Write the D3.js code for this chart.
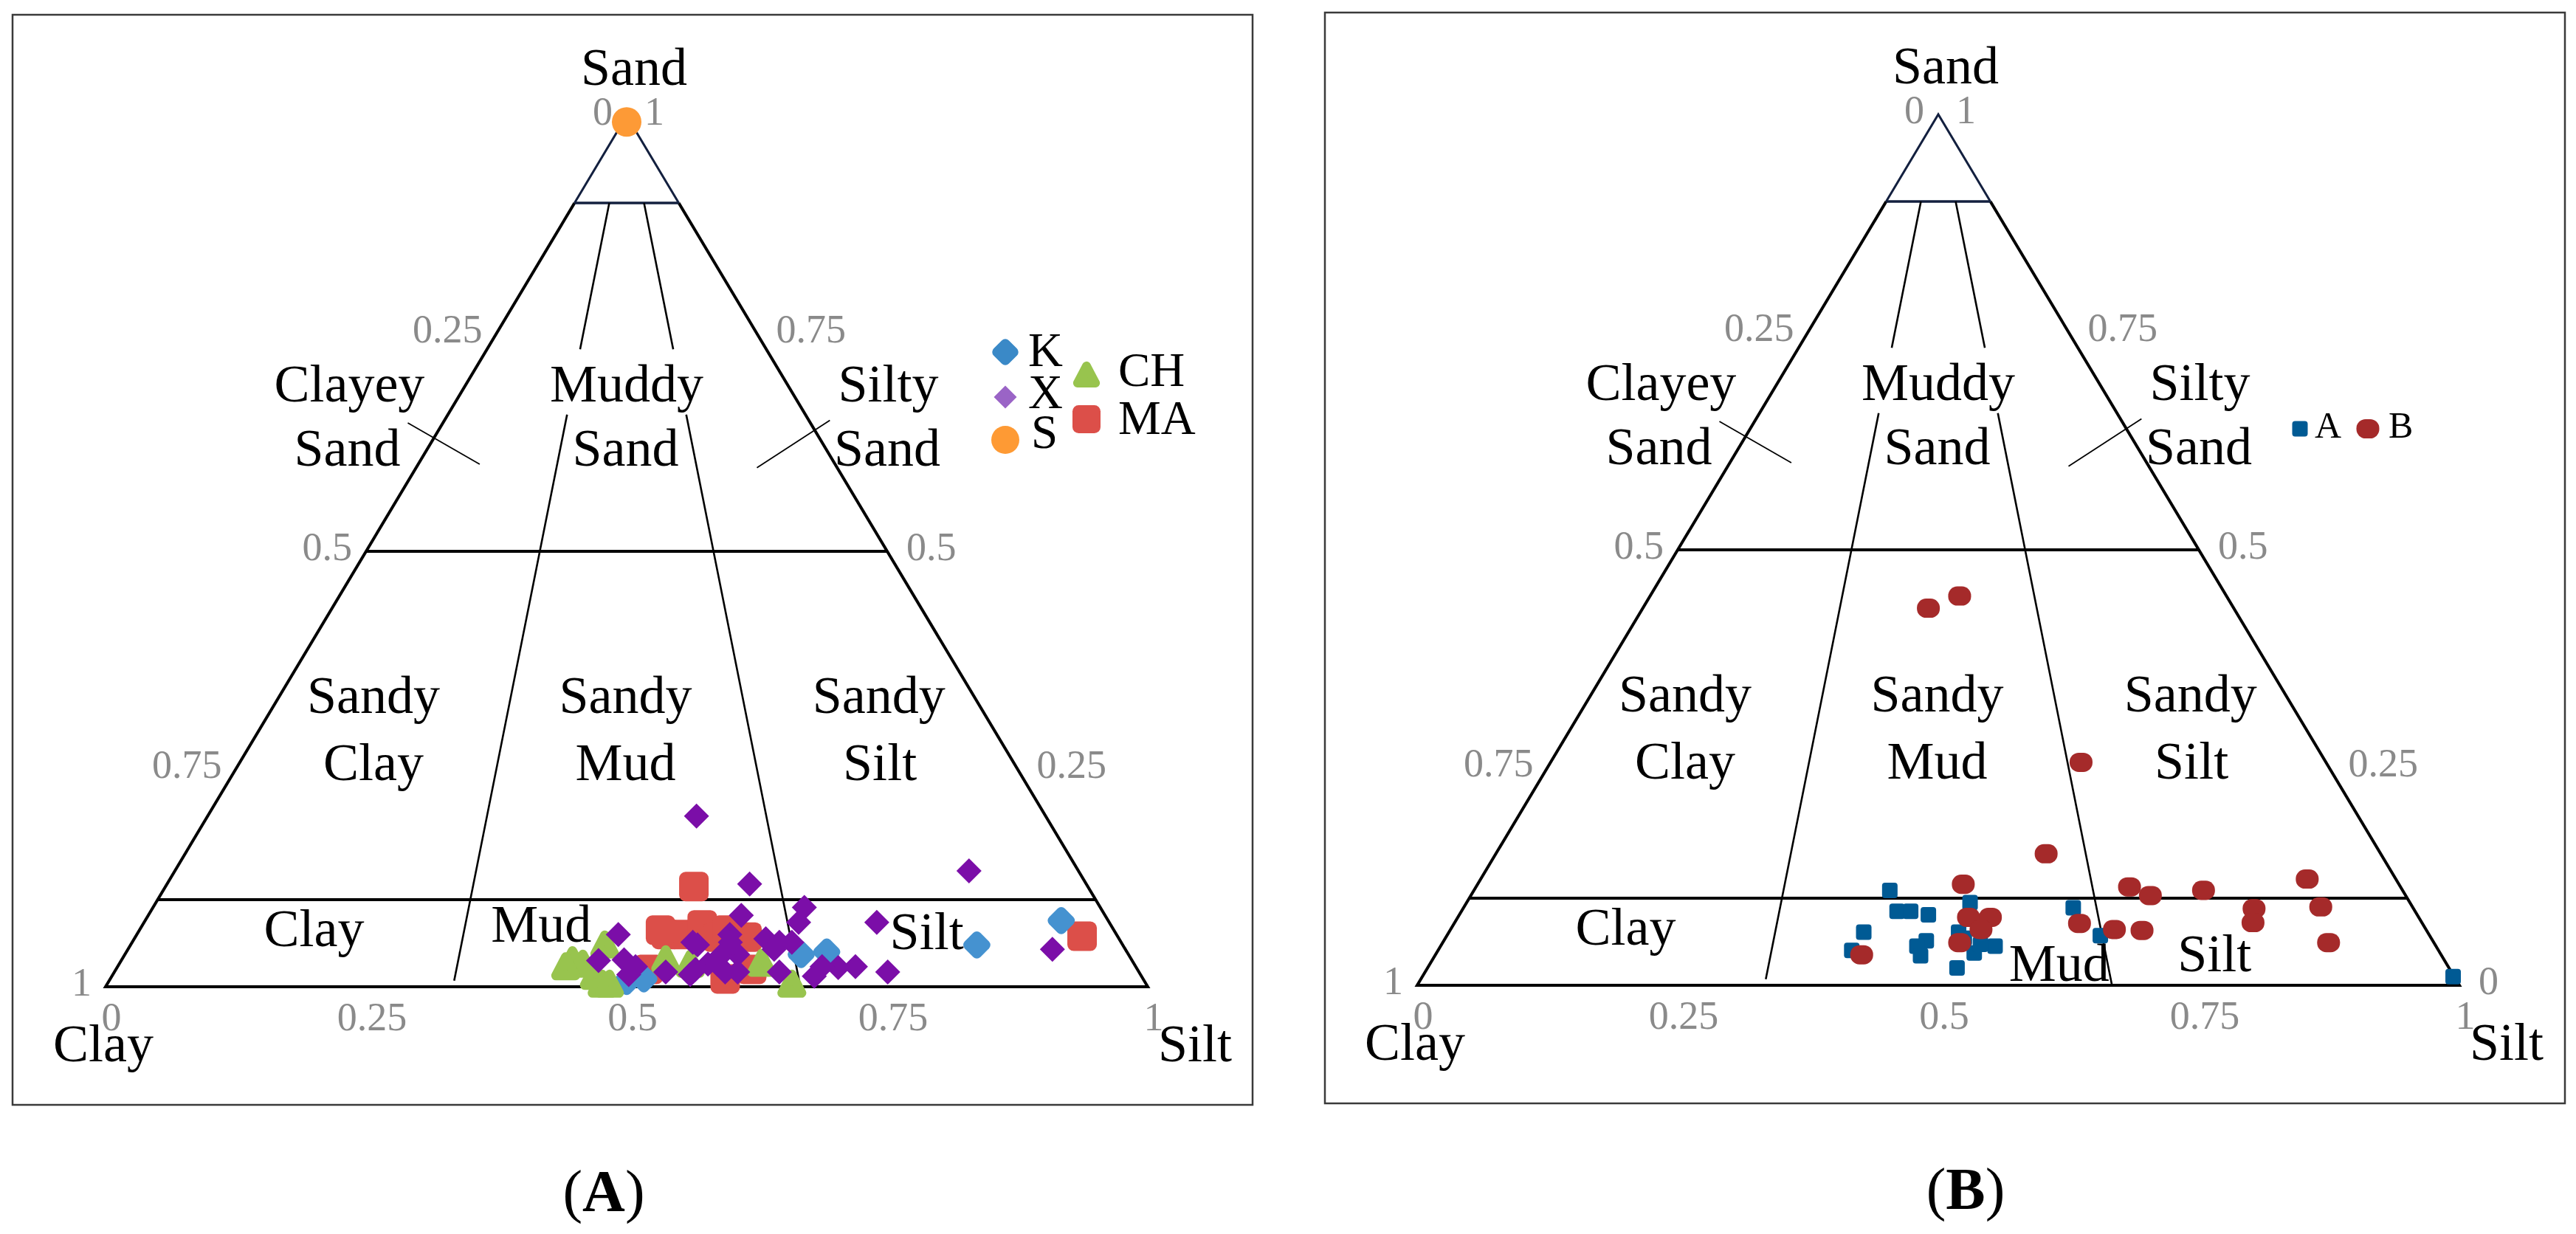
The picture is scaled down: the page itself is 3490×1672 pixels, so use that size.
<!DOCTYPE html>
<html>
<head>
<meta charset="utf-8">
<script src="https://cdn.jsdelivr.net/npm/d3@7"></script>
<style>
  html, body { margin: 0; padding: 0; background: #fff; }
  svg { display: block; font-family: "Liberation Serif", "Times New Roman", serif; }
</style>
</head>
<body>
<svg id="chart" width="3490" height="1672"></svg>
<script>
// Fractions: sand, silt (clay = 1 - sand - silt)

// Panel A
const kSand  = [0.048, 0.076, 0.040, 0.037, 0.006, 0.009];
const kSilt  = [0.812, 0.879, 0.672, 0.649, 0.497, 0.512];

const xSand  = [0.196, 0.133, 0.118, 0.082, 0.091, 0.074, 0.074, 0.017, 0.043, 0.023, 0.022, 0.023,
                0.012, 0.017, 0.051, 0.055, 0.051, 0.060, 0.037, 0.017, 0.017, 0.060, 0.030, 0.031,
                0.023, 0.014, 0.017, 0.048, 0.020, 0.026, 0.037, 0.014, 0.051, 0.026, 0.051, 0.043];
const xSilt  = [0.469, 0.762, 0.559, 0.569, 0.625, 0.628, 0.703, 0.742, 0.887, 0.708, 0.692, 0.676,
                0.674, 0.638, 0.633, 0.606, 0.621, 0.569, 0.588, 0.598, 0.586, 0.462, 0.458, 0.482,
                0.497, 0.495, 0.529, 0.544, 0.556, 0.565, 0.573, 0.554, 0.538, 0.574, 0.574, 0.620];

const sSand  = [0.993];
const sSilt  = [0.0035];

const chSand = [0.030, 0.026, 0.003, 0.048, 0.012, 0.031, 0.026, 0.003, 0.027, 0.023, 0.003];
const chSilt = [0.433, 0.445, 0.475, 0.455, 0.463, 0.522, 0.548, 0.657, 0.616, 0.430, 0.482];

const maSand = [0.058, 0.115, 0.060, 0.060, 0.071, 0.057, 0.020, 0.009, 0.057, 0.065, 0.020, 0.065];
const maSilt = [0.908, 0.507, 0.508, 0.524, 0.537, 0.559, 0.511, 0.590, 0.587, 0.564, 0.610, 0.500];

// Panel B
const aSand  = [0.109, 0.085, 0.085, 0.081, 0.095, 0.061, 0.040, 0.051, 0.045, 0.034, 0.061, 0.037,
                0.045, 0.047, 0.020, 0.089, 0.057, 0.010, 0.054];
const aSilt  = [0.399, 0.418, 0.431, 0.450, 0.483, 0.398, 0.397, 0.463, 0.457, 0.466, 0.489, 0.516,
                0.532, 0.517, 0.508, 0.585, 0.627, 0.989, 0.498];

const bSand  = [0.447, 0.433, 0.256, 0.151, 0.116, 0.113, 0.103, 0.109, 0.122, 0.090, 0.088, 0.072,
                0.049, 0.063, 0.064, 0.071, 0.078, 0.078, 0.064, 0.049, 0.035];
const bSilt  = [0.297, 0.274, 0.509, 0.528, 0.466, 0.627, 0.652, 0.700, 0.793, 0.822, 0.759, 0.766,
                0.850, 0.664, 0.637, 0.600, 0.490, 0.511, 0.509, 0.496, 0.409];

// Folk class boundaries
const sandLevels = [0.1, 0.5, 0.9];
const mudRatios  = [1 / 3, 2 / 3];
const tickVals   = [0, 0.25, 0.5, 0.75, 1];
const tickText   = ['0', '0.25', '0.5', '0.75', '1'];

// Region labels: [text, horizontal fraction, sand level of baseline]
const regionLabels = [
  ['Clayey', 0.234, 0.672], ['Sand', 0.232, 0.598],
  ['Muddy', 0.500, 0.672], ['Sand', 0.499, 0.598],
  ['Silty', 0.751, 0.672], ['Sand', 0.750, 0.598],
  ['Sandy', 0.257, 0.314], ['Clay', 0.257, 0.237],
  ['Sandy', 0.499, 0.314], ['Mud', 0.499, 0.237],
  ['Sandy', 0.742, 0.314], ['Silt', 0.743, 0.237],
  ['Clay', 0.200, 0.047]
];
const bottomLabelsA = [['Mud', 0.418, 0.052], ['Silt', 0.788, 0.043]];
const bottomLabelsB = [['Mud', 0.616, 0.005], ['Silt', 0.765, 0.016]];

const svg = d3.select('#chart');
svg.append('rect').attr('width', 3490).attr('height', 1672).attr('fill', '#fff');

function rows(sand, silt) { return sand.map((s, i) => ({ sand: s, silt: silt[i] })); }

// marker painters
const markers = {
  roundDiamond: (g, color, size) => g.append('rect')
    .attr('x', -size / 2).attr('y', -size / 2).attr('width', size).attr('height', size)
    .attr('rx', size * 0.23).attr('transform', 'rotate(45)').attr('fill', color),
  diamond: (g, color, size) => g.append('path')
    .attr('d', `M0,${-size / 2}L${size / 2},0L0,${size / 2}L${-size / 2},0Z`).attr('fill', color),
  circle: (g, color, size) => g.append('circle').attr('r', size / 2).attr('fill', color),
  triangle: (g, color, size) => g.append('path')
    .attr('d', `M0,${-size * 0.33}L${size * 0.33},${size * 0.3}L${-size * 0.33},${size * 0.3}Z`)
    .attr('fill', color).attr('stroke', color).attr('stroke-width', size * 0.32)
    .attr('stroke-linejoin', 'round'),
  roundSquare: (g, color, size) => g.append('rect')
    .attr('x', -size / 2).attr('y', -size / 2).attr('width', size).attr('height', size)
    .attr('rx', size * 0.22).attr('fill', color),
  smallSquare: (g, color, size) => g.append('rect')
    .attr('x', -size / 2).attr('y', -size / 2).attr('width', size).attr('height', size)
    .attr('rx', 4).attr('fill', color),
  pill: (g, color, size) => g.append('rect')
    .attr('x', -size / 2).attr('y', -size * 0.42).attr('width', size).attr('height', size * 0.84)
    .attr('rx', size * 0.4).attr('fill', color)
};

function drawPanel(p) {
  const g = svg.append('g');
  const x = d3.scaleLinear().domain([0, 1]).range([p.x0, p.x1]);
  const y = d3.scaleLinear().domain([0, 1]).range([p.base, p.top]);
  const pt = (sand, silt) => [x(silt + sand / 2), y(sand)];
  const line = d3.line();

  // frame
  g.append('rect')
    .attr('x', p.frame[0]).attr('y', p.frame[1])
    .attr('width', p.frame[2] - p.frame[0]).attr('height', p.frame[3] - p.frame[1])
    .attr('fill', 'none').attr('stroke', '#3a3a3a').attr('stroke-width', 2.5);

  const lines = g.append('g').attr('fill', 'none').attr('stroke-linecap', 'butt');

  // outer edges: black below 0.9, navy in the sand apex
  lines.append('path').attr('d', line([pt(0.9, 0), pt(0, 0), pt(0, 1), pt(0.9, 0.1)]))
    .attr('stroke', '#000').attr('stroke-width', 4).attr('stroke-linejoin', 'miter');
  lines.append('path').attr('d', line([pt(0.9, 0), pt(1, 0), pt(0.9, 0.1)]))
    .attr('stroke', '#13203f').attr('stroke-width', 3);

  // horizontal sand levels
  sandLevels.forEach(s => {
    lines.append('path').attr('d', line([pt(s, 0), pt(s, 1 - s)]))
      .attr('stroke', s === 0.9 ? '#13203f' : '#000')
      .attr('stroke-width', s === 0.9 ? 3.5 : 4);
  });

  // silt:clay ratio dividers, broken around the "Muddy" label
  mudRatios.forEach((r, i) => {
    const seg = (a, b) => line([pt(a, r * (1 - a)), pt(b, r * (1 - b))]);
    lines.append('path').attr('d', seg(0.9, 0.732)).attr('stroke', '#000').attr('stroke-width', 2.6);
    lines.append('path').attr('d', seg(0.657, i === 0 ? 0.007 : 0))
      .attr('stroke', '#000').attr('stroke-width', 2.6);
  });

  // small oblique ticks across the side edges
  [[[0.290, 0.6475], [0.359, 0.600]], [[0.695, 0.6505], [0.625, 0.596]]].forEach(t => {
    lines.append('path').attr('d', line(t.map(d => [x(d[0]), y(d[1])])))
      .attr('stroke', '#000').attr('stroke-width', 1.8);
  });

  // tick labels
  const ticks = g.append('g').attr('fill', '#8a8a8a').attr('font-size', 54);
  tickVals.forEach((v, i) => {
    ticks.append('text').attr('x', x(v) + 8).attr('y', p.base + 59)
      .attr('text-anchor', 'middle').text(tickText[i]);
    // left side: clay, 1 at bottom to 0 at top
    ticks.append('text').attr('x', x(v / 2) - 19).attr('y', y(v) + 12)
      .attr('text-anchor', 'end').text(tickText[4 - i]);
    // right side: sand, 0 at bottom to 1 at top
    if (v > 0 || p.rightZero) {
      ticks.append('text').attr('x', x(1 - v / 2) + (v === 1 ? 24 : 26)).attr('y', y(v) + 12)
        .attr('text-anchor', 'start').text(tickText[i]);
    }
  });

  // vertex labels
  const vl = g.append('g').attr('fill', '#000').attr('font-size', 72);
  vl.append('text').attr('x', x(0.5) + 10).attr('y', p.top - 42).attr('text-anchor', 'middle').text('Sand');
  vl.append('text').attr('x', x(0) - 3).attr('y', p.base + 101).attr('text-anchor', 'middle').text('Clay');
  vl.append('text').attr('x', x(1) + 14).attr('y', p.base + 101).attr('text-anchor', 'start').text('Silt');

  // region labels
  regionLabels.concat(p.bottomLabels).forEach(([t, h, s]) => {
    vl.append('text').attr('x', x(h)).attr('y', y(s)).attr('text-anchor', 'middle').text(t);
  });

  // points
  p.series.forEach(sr => {
    g.append('g').selectAll('g')
      .data(rows(sr.sand, sr.silt))
      .join('g')
      .attr('transform', d => `translate(${pt(d.sand, d.silt)})`)
      .each(function () { markers[sr.shape](d3.select(this), sr.color, sr.size); });
  });

  // legend
  const lg = g.append('g').attr('font-size', p.legendFont).attr('fill', '#000');
  p.legend.forEach(it => {
    const m = lg.append('g').attr('transform', `translate(${it.mx},${it.my})`);
    markers[it.shape](m, it.color, it.size);
    lg.append('text').attr('x', it.tx).attr('y', it.ty).text(it.name);
  });

  // caption
  const cap = g.append('text').attr('x', p.capX).attr('y', p.capY)
    .attr('text-anchor', 'middle').attr('font-size', 80).attr('fill', '#000');
  cap.append('tspan').text('(');
  cap.append('tspan').attr('font-weight', 'bold').text(p.caption);
  cap.append('tspan').text(')');
}

drawPanel({
  x0: 143, x1: 1555, base: 1337, top: 157,
  frame: [17, 20, 1697, 1497],
  rightZero: false,
  bottomLabels: bottomLabelsA,
  series: [
    { sand: maSand, silt: maSilt, shape: 'roundSquare', color: '#dc4f49', size: 40 },
    { sand: kSand, silt: kSilt, shape: 'roundDiamond', color: '#4592d0', size: 30 },
    { sand: chSand, silt: chSilt, shape: 'triangle', color: '#98c44e', size: 40 },
    { sand: xSand, silt: xSilt, shape: 'diamond', color: '#7b0ea8', size: 34 },
    { sand: sSand, silt: sSilt, shape: 'circle', color: '#fd9a36', size: 40 }
  ],
  legendFont: 65,
  legend: [
    { name: 'K', shape: 'roundDiamond', color: '#3a89c7', size: 29, mx: 1362, my: 477, tx: 1393, ty: 496 },
    { name: 'X', shape: 'diamond', color: '#9a64c6', size: 31, mx: 1362, my: 538, tx: 1393, ty: 553 },
    { name: 'S', shape: 'circle', color: '#fe9a34', size: 38, mx: 1362, my: 596, tx: 1397, ty: 607 },
    { name: 'CH', shape: 'triangle', color: '#98c44e', size: 37, mx: 1472, my: 508, tx: 1515, ty: 523 },
    { name: 'MA', shape: 'roundSquare', color: '#dc4f49', size: 38, mx: 1472, my: 568, tx: 1515, ty: 588 }
  ],
  caption: 'A', capX: 818, capY: 1641
});

drawPanel({
  x0: 1920, x1: 3332, base: 1335, top: 155,
  frame: [1795, 17, 3475, 1495],
  rightZero: true,
  bottomLabels: bottomLabelsB,
  series: [
    { sand: aSand, silt: aSilt, shape: 'smallSquare', color: '#005a94', size: 21 },
    { sand: bSand, silt: bSilt, shape: 'pill', color: '#a52a2a', size: 31 }
  ],
  legendFont: 50,
  legend: [
    { name: 'A', shape: 'smallSquare', color: '#005a94', size: 21, mx: 3116, my: 581, tx: 3136, ty: 593 },
    { name: 'B', shape: 'pill', color: '#a52a2a', size: 31, mx: 3208, my: 581, tx: 3236, ty: 593 }
  ],
  caption: 'B', capX: 2663, capY: 1638
});
</script>
</body>
</html>
